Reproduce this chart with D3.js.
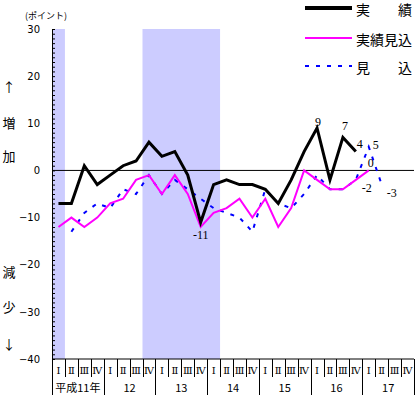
<!DOCTYPE html>
<html>
<head>
<meta charset="utf-8">
<script src="https://cdn.jsdelivr.net/npm/d3@7"></script>
<style>
  body { margin: 0; background: #fff; }
  svg { display: block; }
</style>
</head>
<body>
<div id="chart"></div>
<script>
// years (heisei) and quarter labels
var years = ["平成11年", "12", "13", "14", "15", "16", "17"];
var quarters = ["Ⅰ", "Ⅱ", "Ⅲ", "Ⅳ"];

// 実績 : 1999 I - 2004 IV
var jisseki = [-7, -7, 1, -3, -1, 1, 2, 6, 3, 4, -1, -11, -3, -2, -3, -3, -4, -7, -2, 4, 9, -2, 7, 4];
// 実績見込 : 1999 I - 2005 I
var jissekiMikomi = [-12, -10, -12, -10, -7, -6, -2, -1, -5, -1, -5, -12, -9, -8, -6, -10, -6, -12, -8, 0, -2, -4, -4, -2, 0];
// 見込 : 1999 II - 2005 II (first quarter empty)
var mikomi = [null, -13, -9, -7, -8, -4, -5, -1, -5, -2, -4, -6, -8, -9, -10, -13, -4, -7, -8, -5, -1, -4, -4, -2, 5, -3];

// shaded quarters (index ranges, inclusive)
var shaded = [[0, 0], [7, 12]];

var yTicks = [30, 20, 10, 0, -10, -20, -30, -40];

var W = 418, H = 398;
var svg = d3.select("#chart").append("svg")
    .attr("width", W)
    .attr("height", H);

var keys = [];
years.forEach(function(y, yi) {
    quarters.forEach(function(q, qi) { keys.push(yi * 4 + qi); });
});

var x = d3.scaleBand()
    .domain(keys)
    .range([52, 414])
    .padding(0);
var bw = x.bandwidth();
function cx(i) { return x(i) + bw / 2; }

var y = d3.scaleLinear()
    .domain([-40, 30])
    .range([359, 29]);

// shaded periods
svg.append("g").selectAll("rect")
    .data(shaded)
    .enter().append("rect")
        .attr("x", function(d) { return x(d[0]); })
        .attr("y", y(30))
        .attr("width", function(d) { return x(d[1]) + bw - x(d[0]); })
        .attr("height", y(-40) - y(30))
        .attr("fill", "#ccccff");

// y axis: minor ticks inward, labels on the left
var yAxisTicks = svg.append("g")
    .attr("transform", "translate(52,0)")
    .call(d3.axisRight(y).tickValues(d3.range(-40, 31, 1)).tickSize(3).tickFormat(""));
yAxisTicks.select(".domain").attr("stroke", "#000").attr("stroke-width", 1);
yAxisTicks.selectAll(".tick line").attr("stroke", "#000");

var yLabels = svg.append("g")
    .attr("transform", "translate(52,0)")
    .call(d3.axisLeft(y).tickValues(yTicks).tickSize(0).tickPadding(12));
yLabels.select(".domain").remove();
yLabels.selectAll("text")
    .attr("font-family", "DejaVu Sans")
    .attr("font-size", 10)
    .attr("fill", "#000");

// zero line
svg.append("line")
    .attr("x1", 52).attr("x2", 414)
    .attr("y1", y(0)).attr("y2", y(0))
    .attr("stroke", "#000")
    .attr("stroke-width", 1);

// bottom axis line
svg.append("line")
    .attr("x1", 52).attr("x2", 414)
    .attr("y1", y(-40)).attr("y2", y(-40))
    .attr("stroke", "#000");

// quarter separators and labels
var base = y(-40);
svg.append("g").selectAll("line")
    .data(d3.range(keys.length + 1))
    .enter().append("line")
        .attr("x1", function(i) { return Math.round(52 + i * bw) + 0.5; })
        .attr("x2", function(i) { return Math.round(52 + i * bw) + 0.5; })
        .attr("y1", base)
        .attr("y2", function(i) { return i % 4 === 0 ? base + 36 : base + 18; })
        .attr("stroke", "#000");

svg.append("g").selectAll("text")
    .data(keys)
    .enter().append("text")
        .attr("x", function(i) { return cx(i); })
        .attr("y", base + 11)
        .attr("text-anchor", "middle")
        .attr("dominant-baseline", "central")
        .attr("font-family", "DejaVu Serif, serif")
        .attr("font-size", 10)
        .text(function(i) { return quarters[i % 4]; });

svg.append("g").selectAll("text")
    .data(years)
    .enter().append("text")
        .attr("x", function(d, i) { return x(i * 4) + bw * 2; })
        .attr("y", base + 28)
        .attr("text-anchor", "middle")
        .attr("dominant-baseline", "central")
        .attr("font-family", "Noto Sans CJK JP")
        .attr("font-size", 11)
        .text(function(d) { return d; });

// lines
var line = d3.line()
    .defined(function(d) { return d != null; })
    .x(function(d, i) { return cx(i); })
    .y(function(d) { return y(d); });

svg.append("path").datum(mikomi)
    .attr("d", line)
    .attr("fill", "none")
    .attr("stroke", "#0000ff")
    .attr("stroke-width", 2)
    .attr("stroke-dasharray", "4,7");

svg.append("path").datum(jissekiMikomi)
    .attr("d", line)
    .attr("fill", "none")
    .attr("stroke", "#ff00ff")
    .attr("stroke-width", 2);

svg.append("path").datum(jisseki)
    .attr("d", line)
    .attr("fill", "none")
    .attr("stroke", "#000")
    .attr("stroke-width", 3)
    .attr("stroke-linejoin", "miter");

// value labels
var labels = [
    { s: jisseki, i: 11, dx: 0, dy: 17 },
    { s: jisseki, i: 20, dx: 1, dy: -2 },
    { s: jisseki, i: 22, dx: 2, dy: -7 },
    { s: jisseki, i: 23, dx: 4, dy: -4 },
    { s: mikomi, i: 24, dx: 7, dy: 2 },
    { s: jissekiMikomi, i: 24, dx: 2, dy: -3 },
    { s: mikomi, i: 23, dx: 11, dy: 12 },
    { s: mikomi, i: 25, dx: 10, dy: 12 }
];
svg.append("g").selectAll("text")
    .data(labels)
    .enter().append("text")
        .attr("x", function(d) { return cx(d.i) + d.dx; })
        .attr("y", function(d) { return y(d.s[d.i]) + d.dy; })
        .attr("text-anchor", "middle")
        .attr("font-family", "Liberation Serif, serif")
        .attr("font-size", 12)
        .text(function(d) { return String(d.s[d.i]); });

// legend
var legend = [
    { name: "実　　績", color: "#000", width: 4, dash: null, y: 8 },
    { name: "実績見込", color: "#ff00ff", width: 2, dash: null, y: 38 },
    { name: "見　　込", color: "#0000ff", width: 2, dash: "4,7", y: 66 }
];
var lg = svg.append("g").selectAll("g")
    .data(legend)
    .enter().append("g");
lg.append("line")
    .attr("x1", 305).attr("x2", 352)
    .attr("y1", function(d) { return d.y; })
    .attr("y2", function(d) { return d.y; })
    .attr("stroke", function(d) { return d.color; })
    .attr("stroke-width", function(d) { return d.width; })
    .attr("stroke-dasharray", function(d) { return d.dash; });
lg.append("text")
    .attr("x", 356)
    .attr("y", function(d) { return d.y + 1; })
    .attr("dominant-baseline", "central")
    .attr("font-family", "Noto Sans CJK JP")
    .attr("font-size", 14)
    .text(function(d) { return d.name; });

// unit and side captions
svg.append("text")
    .attr("x", 25).attr("y", 15)
    .attr("dominant-baseline", "central")
    .attr("font-family", "Noto Sans CJK JP")
    .attr("font-size", 9)
    .text("(ポイント)");

var side = [["↑", 86], ["増", 122], ["加", 155], ["減", 271], ["少", 306], ["↓", 343]];
svg.append("g").selectAll("text")
    .data(side)
    .enter().append("text")
        .attr("x", 9)
        .attr("y", function(d) { return d[1]; })
        .attr("text-anchor", "middle")
        .attr("dominant-baseline", "central")
        .attr("font-family", "Noto Sans CJK JP")
        .attr("font-size", 13)
        .text(function(d) { return d[0]; });
</script>
</body>
</html>
